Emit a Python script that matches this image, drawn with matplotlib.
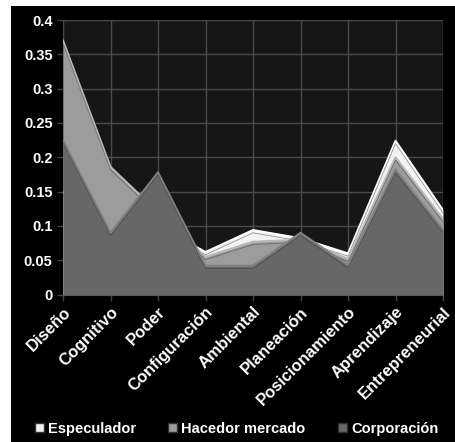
import numpy as np
import matplotlib.pyplot as plt
from matplotlib.patches import Rectangle, Patch

plt.rcParams['font.family'] = ['Liberation Sans', 'DejaVu Sans']

categorias = ['Diseño', 'Cognitivo', 'Poder', 'Configuración', 'Ambiental',
              'Planeación', 'Posicionamiento', 'Aprendizaje', 'Entrepreneurial']
especulador = [0.15, 0.08, 0.10, 0.062, 0.094, 0.082, 0.060, 0.224, 0.123]
hacedor = [0.37, 0.186, 0.12, 0.055, 0.077, 0.080, 0.052, 0.200, 0.110]
corporacion = [0.225, 0.09, 0.178, 0.042, 0.042, 0.09, 0.043, 0.182, 0.094]

series = [('Especulador', especulador, '#f2f2f2', '#ffffff'),
          ('Hacedor mercado', hacedor, '#9c9c9c', '#b8b8b8'),
          ('Corporación', corporacion, '#676767', '#808080')]

fig = plt.figure(figsize=(4.55, 4.42), dpi=100, facecolor='white')
fig.patches.append(Rectangle((11 / 455, 0), 1, 1 - 6 / 442, transform=fig.transFigure,
                             facecolor='black', edgecolor='none', zorder=-10))
ax = fig.add_axes([63 / 455, 1 - 294.6 / 442, 380 / 455, 274.6 / 442])
ax.set_facecolor('#161616')

x = np.arange(len(categorias))
for i, (nombre, vals, col, edge) in enumerate(series):
    ax.fill_between(x, 0, vals, color=col, zorder=2 + i, linewidth=0)
    ax.plot(x, vals, color=edge, lw=1.5, zorder=2 + i)
    ax.plot(x, np.array(vals) - 0.004, color='#3a3a3a', lw=0.6, alpha=0.5, zorder=2 + i)

ax.set_xlim(0, len(categorias) - 1)
ax.set_ylim(0, 0.4)
ax.set_yticks(np.arange(0, 0.41, 0.05))
ax.set_yticklabels(['0', '0.05', '0.1', '0.15', '0.2', '0.25', '0.3', '0.35', '0.4'])
ax.set_xticks(x)
ax.set_xticklabels(categorias, rotation=45, ha='right', va='top', rotation_mode='anchor')
ax.grid(True, color='#4a4a4a', lw=1, zorder=1)
ax.set_axisbelow(True)
for s in ax.spines.values():
    s.set_visible(False)
ax.spines['bottom'].set_visible(True)
ax.spines['bottom'].set_color('#555555')
ax.tick_params(colors='white', labelsize=10.5, length=4, width=1)
ax.tick_params(axis='x', pad=3, labelsize=12)
ax.tick_params(axis='both', color='#444444')
for lab in ax.get_xticklabels() + ax.get_yticklabels():
    lab.set_color('white')
    lab.set_fontweight('bold')

handles = [Patch(facecolor=c, edgecolor='#333333', label=n) for n, _, c, _ in series]
fig.legend(handles=handles, loc='center', bbox_to_anchor=(0.52, 0.03), ncol=3,
           frameon=False, labelcolor='white', handlelength=0.6, handleheight=0.6,
           handletextpad=0.3, columnspacing=2.2,
           prop={'size': 10.5, 'weight': 'bold'})

fig.savefig('out.png', dpi=100, facecolor='white')
